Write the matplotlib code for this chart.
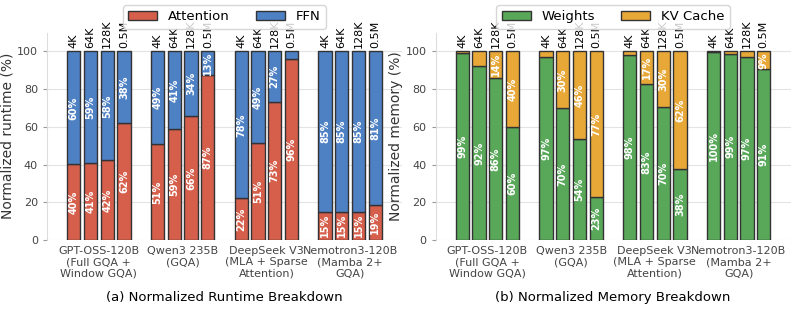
import numpy as np
import matplotlib
matplotlib.use("Agg")
import matplotlib.pyplot as plt

# models and context lengths
models = ["GPT-OSS-120B\n(Full GQA +\nWindow GQA)", "Qwen3 235B\n(GQA)",
          "DeepSeek V3\n(MLA + Sparse\nAttention)", "Nemotron3-120B\n(Mamba 2+\nGQA)"]
ctx = ["4K", "64K", "128K", "0.5M"]

# runtime breakdown (%), per model x context
attn = [[40.1, 40.6, 42.3, 62.0],
        [50.8, 58.7, 65.7, 87.3],
        [22.1, 51.3, 73.4, 95.8],
        [15.0, 15.0, 15.0, 18.8]]
ffn = [[59.9, 59.4, 57.7, 38.0],
       [49.2, 41.3, 34.3, 12.7],
       [77.9, 48.7, 26.6, 4.2],
       [85.0, 85.0, 85.0, 81.2]]

# memory breakdown (%)
weights = [[99.3, 92.2, 85.8, 60.0],
           [96.8, 69.8, 53.8, 22.7],
           [98.3, 82.8, 70.3, 37.6],
           [99.8, 98.8, 97.3, 90.6]]
kv = [[0.7, 7.8, 14.2, 40.0],
      [3.2, 30.2, 46.2, 77.3],
      [1.7, 17.2, 29.7, 62.4],
      [0.2, 1.2, 2.7, 9.4]]

c_attn = "#d65f4b"
c_ffn = "#4e80c4"
c_w = "#59a85a"
c_kv = "#e8a838"

fig = plt.figure(figsize=(7.94, 3.12), dpi=100)
W, H = 794, 312
ax1 = fig.add_axes([47/W, 72/H, 355/W, 207.4/H])
ax2 = fig.add_axes([435.5/W, 72/H, 355/W, 207.4/H])

gap = 5  # one group slot = 4 bars + 1 space


def draw(ax, bottom_vals, top_vals, cb, ct, lb, lt, ylabel, caption):
    for g in range(len(models)):
        x = g*gap + np.arange(len(ctx))
        b = np.array(bottom_vals[g])
        t = np.array(top_vals[g])
        ax.bar(x, b, width=0.8, color=cb, edgecolor="#333333", linewidth=1, zorder=3,
               label=lb if g == 0 else None)
        ax.bar(x, t, bottom=b, width=0.8, color=ct, edgecolor="#333333", linewidth=1, zorder=3,
               label=lt if g == 0 else None)
        for i in range(len(ctx)):
            if b[i] > 8.5:
                ax.text(x[i], b[i]/2, f"{b[i]:.0f}%", rotation=90, ha="center", va="center",
                        color="white", fontsize=7, fontweight="bold", zorder=4)
            if t[i] > 8.5:
                ax.text(x[i], b[i] + t[i]/2, f"{t[i]:.0f}%", rotation=90, ha="center", va="center",
                        color="white", fontsize=7, fontweight="bold", zorder=4)
            ax.text(x[i], 102, ctx[i], rotation=90, ha="center", va="bottom",
                    fontsize=8, color="black", clip_on=False, zorder=2)
    ax.set_xlim(-1.6, 3*gap + 3 + 1.6)
    ax.set_ylim(0, 110)
    ax.set_yticks([0, 20, 40, 60, 80, 100])
    ax.set_xticks([g*gap + 1.5 for g in range(len(models))])
    ax.set_xticklabels(models, fontsize=8, color="#444444")
    ax.tick_params(axis="x", length=0, pad=4)
    ax.tick_params(axis="y", labelsize=8, colors="#444444", length=3, color="#999999")
    ax.set_ylabel(ylabel, fontsize=10, color="#333333", labelpad=2)
    ax.grid(axis="y", color="#e3e3e3", linewidth=0.8, zorder=0)
    for s in ["top", "right", "bottom"]:
        ax.spines[s].set_visible(False)
    ax.spines["left"].set_color("#dddddd")
    pos = ax.get_position()
    cx = (pos.x0 + pos.x1) / 2
    ax.legend(loc="upper center", bbox_to_anchor=(cx, 1 - 5/H), bbox_transform=fig.transFigure,
              ncol=2, fontsize=9.5, frameon=True, borderaxespad=0, handlelength=2.2,
              columnspacing=2.0)
    fig.text(cx, 1 - 298/H, caption, ha="center", va="center", fontsize=9.5)


draw(ax1, attn, ffn, c_attn, c_ffn, "Attention", "FFN",
     "Normalized runtime (%)", "(a) Normalized Runtime Breakdown")
draw(ax2, weights, kv, c_w, c_kv, "Weights", "KV Cache",
     "Normalized memory (%)", "(b) Normalized Memory Breakdown")

fig.savefig("out.png", dpi=100)
